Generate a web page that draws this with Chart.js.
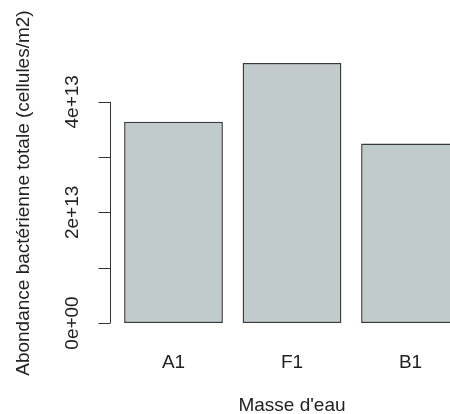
<!DOCTYPE html>
<html>
<head>
<meta charset="utf-8">
<script src="https://cdn.jsdelivr.net/npm/chart.js@4"></script>
<style>
  html, body { margin: 0; padding: 0; overflow: hidden; background: #fff; }
</style>
</head>
<body>
<canvas id="chart" width="480" height="414"></canvas>
<script>
const categories = ['A1', 'F1', 'B1'];
const abundance = [3.64e13, 4.70e13, 3.245e13];
const yTicks = [0, 1e13, 2e13, 3e13, 4e13];
const yTickLabels = ['0e+00', '', '2e+13', '', '4e+13'];

const yTitle = 'Abondance bactérienne totale (cellules/m2)';
const xTitle = "Masse d'eau";

const FONT = '"Liberation Sans", Arial, sans-serif';
const TEXT = '#222';
const SIZE = 19;

// R extends the range 4% on both sides
const maxVal = Math.max(...abundance);
const yMin = -0.04 * maxVal;
const yMax = 1.04 * maxVal;

// R style axis: line only from first to last tick, rotated labels
const rAxis = {
    id: 'rAxis',
    afterDraw(chart) {
        const ctx = chart.ctx;
        const y = chart.scales.y;
        const x = Math.round(chart.chartArea.left - 4) + 0.5;
        ctx.save();
        ctx.strokeStyle = '#333';
        ctx.lineWidth = 1;
        ctx.beginPath();
        ctx.moveTo(x, y.getPixelForValue(yTicks[0]));
        ctx.lineTo(x, y.getPixelForValue(yTicks[yTicks.length - 1]));
        yTicks.forEach(v => {
            const py = Math.round(y.getPixelForValue(v)) + 0.5;
            ctx.moveTo(x - 12, py);
            ctx.lineTo(x, py);
        });
        ctx.stroke();

        ctx.font = SIZE + 'px ' + FONT;
        ctx.fillStyle = TEXT;
        ctx.textAlign = 'center';
        ctx.textBaseline = 'middle';
        yTicks.forEach((v, i) => {
            if (!yTickLabels[i]) return;
            ctx.save();
            ctx.translate(x - 38, y.getPixelForValue(v));
            ctx.rotate(-Math.PI / 2);
            ctx.fillText(yTickLabels[i], 0, 0);
            ctx.restore();
        });
        ctx.restore();
    }
};

const ctx = document.getElementById('chart').getContext('2d');
new Chart(ctx, {
    type: 'bar',
    data: {
        labels: categories,
        datasets: [{
            data: abundance,
            backgroundColor: '#c1cbcb',
            borderColor: '#3a3a3a',
            borderWidth: 1.5,
            borderSkipped: false,
            barPercentage: 1 / 1.2,
            categoryPercentage: 1
        }]
    },
    options: {
        responsive: false,
        animation: false,
        devicePixelRatio: 1,
        layout: { padding: { top: 52.7, right: 10.25, left: 0, bottom: 0 } },
        plugins: {
            legend: { display: false },
            tooltip: { enabled: false }
        },
        scales: {
            x: {
                grid: { display: false, drawTicks: false },
                border: { display: false },
                ticks: { color: TEXT, font: { family: FONT, size: SIZE }, padding: 17.5 },
                title: {
                    display: true,
                    text: xTitle,
                    color: TEXT,
                    font: { family: FONT, size: SIZE },
                    padding: { top: 0, bottom: -3 }
                },
                afterFit(s) { s.height = 80.6; }
            },
            y: {
                min: yMin,
                max: yMax,
                grid: { display: false },
                border: { display: false },
                ticks: { display: false },
                title: {
                    display: true,
                    text: yTitle,
                    color: TEXT,
                    font: { family: FONT, size: SIZE },
                    padding: { top: 12.5, bottom: 0 }
                },
                afterFit(s) { s.width = 114.25; }
            }
        }
    },
    plugins: [rAxis]
});
</script>
</body>
</html>
